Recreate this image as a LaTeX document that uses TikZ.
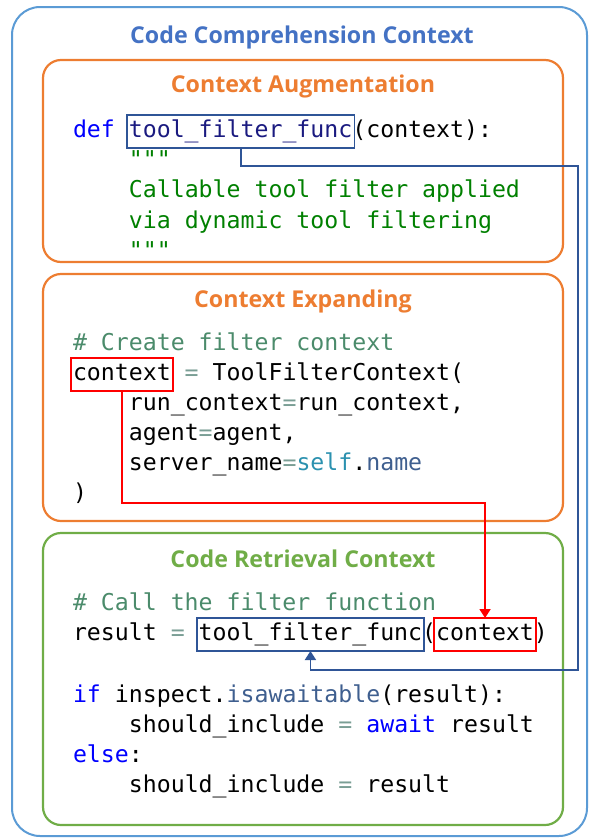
\documentclass[tikz,border=0pt]{standalone}
\usepackage{fontspec}
\setmonofont{DejaVu Sans Mono}
\newfontfamily\titlefont{Open Sans}
\usetikzlibrary{arrows.meta,calc}
\definecolor{outerc}{HTML}{5B9BD5}
\definecolor{titleblue}{HTML}{4472C4}
\definecolor{orangec}{HTML}{ED7D31}
\definecolor{greenc}{HTML}{70AD47}
\definecolor{conblue}{HTML}{2F5597}
\definecolor{conred}{HTML}{FF0000}
\definecolor{kw}{HTML}{0000FF}
\definecolor{doc}{HTML}{008000}
\definecolor{cmt}{HTML}{4B8B6B}
\definecolor{eqc}{HTML}{7A9E95}
\definecolor{selfc}{HTML}{2B91AF}
\definecolor{attrc}{HTML}{3F5F8F}
\definecolor{fnc}{HTML}{1A1A80}
\newcommand\codef{\ttfamily\fontsize{23.2}{28}\selectfont}
\newcommand\spc{\ \mbox{}}
\tikzset{
  code/.style={font=\codef, inner sep=0pt, outer sep=0pt, anchor=base west},
  hbox/.style={code, draw, line width=1.6pt, inner xsep=2pt, inner ysep=3pt, text height=19pt, text depth=8pt},
  bbox/.style={hbox, draw=conblue},
  rbox/.style={hbox, draw=conred},
  ttl/.style={font=\titlefont\bfseries\fontsize{23.2}{28}\selectfont, inner sep=0pt, anchor=base},
  frame/.style={line width=2.2pt, rounded corners=18pt},
  bluecon/.style={draw=conblue, line width=1.8pt, -{Triangle[width=11pt,length=9pt]}},
  redcon/.style={draw=conred, line width=1.9pt, -{Triangle[width=11pt,length=9pt]}}
}
\begin{document}
\begin{tikzpicture}[x=1pt,y=-1pt]
\useasboundingbox (0,0) rectangle (590,839);
\draw[line width=2pt, draw=outerc, rounded corners=28pt] (12,7) rectangle (587,836);
\node[ttl, text=titleblue] (t0) at (302,43) {Code Comprehension Context};

% ---------- Box 1
\draw[frame, draw=orangec] (43,60) rectangle (563,262);
\node[ttl, text=orangec] (t1) at (303,92) {Context Augmentation};
\node[code] (a1) at (73,137) {\color{kw}def\spc};
\node[bbox, text=fnc] (tf1) at ($(a1.base east)+(-2,0)$) {tool\_filter\_func};
\node[code] (a1b) at ($(tf1.base east)+(-2,0)$) {(context):};
\node[code, text=doc] (a2) at (128.9,167) {"""};
\node[code, text=doc] (a3) at (128.9,197) {Callable tool filter applied};
\node[code, text=doc] (a4) at (128.9,228) {via dynamic tool filtering};
\node[code, text=doc] (a5) at (128.9,258) {"""};

% ---------- Box 2
\draw[frame, draw=orangec] (43,274) rectangle (563,521);
\node[ttl, text=orangec] (t2) at (303,307) {Context Expanding};
\node[code, text=cmt] (b1) at (73,350) {\# Create filter context};
\node[rbox] (ctx1) at (71,380) {context};
\node[code] (b2) at ($(ctx1.base east)+(-2,0)$) {\ {\color{eqc}=}\ ToolFilterContext(};
\node[code] (b3) at (128.9,410) {run\_context{\color{eqc}=}run\_context,};
\node[code] (b4) at (128.9,440) {agent{\color{eqc}=}agent,};
\node[code] (b5) at (128.9,470) {server\_name{\color{eqc}=}{\color{selfc}self}.{\color{attrc}name}};
\node[code] (b6) at (73,500) {)};

% ---------- Box 3
\draw[frame, draw=greenc] (43,533) rectangle (563,825);
\node[ttl, text=greenc] (t3) at (303,567) {Code Retrieval Context};
\node[code, text=cmt] (c1) at (73,610) {\# Call the filter function};
\node[code] (c2) at (73,640) {result\ {\color{eqc}=}\spc};
\node[bbox] (tf2) at ($(c2.base east)+(-2,0)$) {tool\_filter\_func};
\node[code] (c2b) at ($(tf2.base east)+(-2,0)$) {(};
\node[rbox] (ctx2) at ($(c2b.base east)+(-2,0)$) {context};
\node[code] (c2c) at ($(ctx2.base east)+(-2,0)$) {)};
\node[code] (c3) at (73,702) {{\color{kw}if}\ inspect.{\color{attrc}isawaitable}(result):};
\node[code] (c4) at (128.9,732) {should\_include\ {\color{eqc}=}\ {\color{kw}await}\ result};
\node[code] (c5) at (73,762) {{\color{kw}else}:};
\node[code] (c6) at (128.9,792) {should\_include\ {\color{eqc}=}\ result};

% ---------- connectors
\coordinate (bt) at (578,166);
\coordinate (bb) at (578,670);
\draw[bluecon] (tf1.south) |- (bt) -- (bb) -| (tf2.south);
\coordinate (rt) at (0,503);
\draw[redcon] (ctx1.south) -- (ctx1.south |- rt) -| (ctx2.north);
\end{tikzpicture}
\end{document}
